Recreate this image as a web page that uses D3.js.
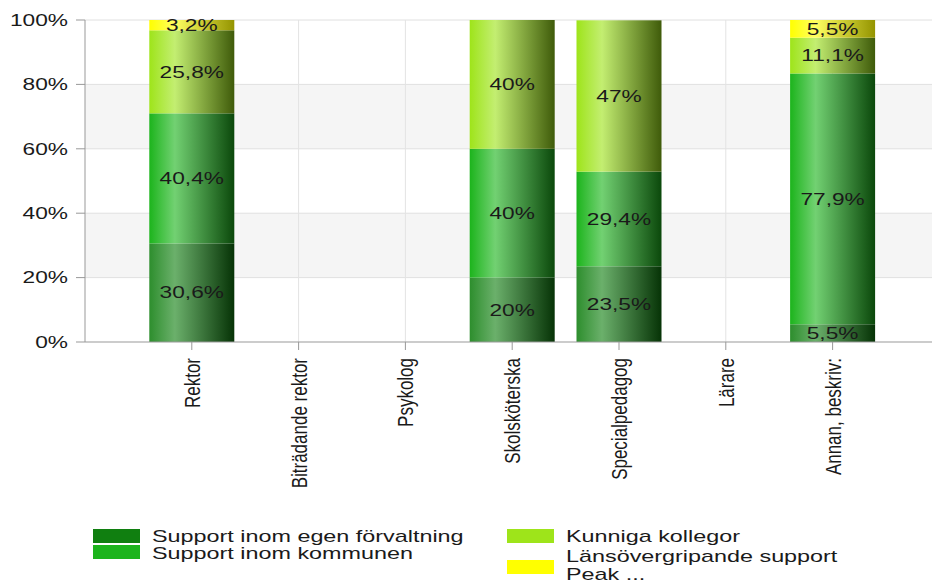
<!DOCTYPE html>
<html>
<head>
<meta charset="utf-8">
<script src="https://cdn.jsdelivr.net/npm/d3@7"></script>
<style>
  body { margin: 0; background: #fff; }
  text { font-family: "Liberation Sans", Arial, sans-serif; fill: #1a1a1a; }
</style>
</head>
<body>
<div id="chart"></div>
<script>
// Data
const categories = ["Rektor", "Biträdande rektor", "Psykolog", "Skolsköterska", "Specialpedagog", "Lärare", "Annan, beskriv:"];
const seriesNames = ["Support inom egen förvaltning", "Support inom kommunen", "Kunniga kollegor", "Länsövergripande support Peak ..."];
const egenForvaltning = [30.6, 0, 0, 20, 23.5, 0, 5.5];
const inomKommunen = [40.4, 0, 0, 40, 29.4, 0, 77.9];
const kunnigaKollegor = [25.8, 0, 0, 40, 47, 0, 11.1];
const lansovergripande = [3.2, 0, 0, 0, 0, 0, 5.5];
const yTicks = [0, 20, 40, 60, 80, 100];
const seriesColors = ["#107f10", "#1cb41c", "#9ee41a", "#ffff00"];

const width = 932, height = 580;
const margin = { top: 20, left: 85, bottom: 342 };
const step = 106.8;
const barWidth = 85;
const sx = 1.42; // horizontal text stretch seen in the reference

const svg = d3.select("#chart").append("svg")
    .attr("width", width)
    .attr("height", height);

const x = d3.scalePoint()
    .domain(categories)
    .range([margin.left, margin.left + step * (categories.length + 1)])
    .padding(1);

const y = d3.scaleLinear().domain([0, 100]).range([margin.bottom, margin.top]);

// table for stacking
const keys = ["s0", "s1", "s2", "s3"];
const rows = categories.map((c, i) => ({
    cat: c,
    s0: egenForvaltning[i], s1: inomKommunen[i], s2: kunnigaKollegor[i], s3: lansovergripande[i]
}));
const stacked = d3.stack().keys(keys)(rows);

// Gradients
const defs = svg.append("defs");
seriesColors.forEach((c, i) => {
    const g = defs.append("linearGradient")
        .attr("id", "grad" + i)
        .attr("x1", "0%").attr("x2", "100%").attr("y1", "0%").attr("y2", "0%");
    const light = d3.interpolateRgb(c, "#ffffff")(0.38);
    const dark = d3.interpolateRgb(c, "#000000")(i === 3 ? 0.42 : 0.6);
    g.append("stop").attr("offset", "0%").attr("stop-color", i === 0 ? d3.interpolateRgb(c, "#ffffff")(0.12) : c);
    g.append("stop").attr("offset", "30%").attr("stop-color", light);
    g.append("stop").attr("offset", "100%").attr("stop-color", dark);
});

// Alternating bands
const bands = [[20, 40], [60, 80]];
svg.selectAll(".band")
    .data(bands)
    .enter()
    .append("rect")
    .attr("x", margin.left)
    .attr("width", width - margin.left)
    .attr("y", d => y(d[1]))
    .attr("height", d => y(d[0]) - y(d[1]))
    .attr("fill", "#f5f5f5");

// Horizontal grid
svg.selectAll(".hgrid")
    .data(yTicks.slice(1))
    .enter()
    .append("line")
    .attr("x1", margin.left).attr("x2", width)
    .attr("y1", d => y(d)).attr("y2", d => y(d))
    .attr("stroke", "#e0e0e0");

// Vertical grid
svg.selectAll(".vgrid")
    .data(categories)
    .enter()
    .append("line")
    .attr("x1", d => x(d)).attr("x2", d => x(d))
    .attr("y1", margin.top).attr("y2", margin.bottom)
    .attr("stroke", "#e3e3e3");

// Bars
const layers = svg.selectAll(".layer")
    .data(stacked)
    .enter()
    .append("g")
    .attr("fill", (d, i) => `url(#grad${i})`);

layers.selectAll("rect")
    .data(d => d.filter(p => p.data[d.key] > 0))
    .enter()
    .append("rect")
    .attr("x", d => x(d.data.cat) - barWidth / 2)
    .attr("width", barWidth)
    .attr("y", d => y(d[1]))
    .attr("height", d => y(d[0]) - y(d[1]));

// Labels in segments
const fmt = v => String(v).replace(".", ",") + "%";
layers.selectAll("text")
    .data(d => d.filter(p => p.data[d.key] > 0).map(p => ({ p: p, v: p.data[d.key] })))
    .enter()
    .append("text")
    .attr("transform", d => `translate(${x(d.p.data.cat)},${y((d.p[0] + d.p[1]) / 2)}) scale(${sx},1)`)
    .attr("text-anchor", "middle")
    .attr("dy", "0.36em")
    .style("font-size", "16px")
    .text(d => fmt(d.v));

// Axes
svg.append("line")
    .attr("x1", margin.left).attr("x2", margin.left)
    .attr("y1", margin.top).attr("y2", margin.bottom)
    .attr("stroke", "#999");
svg.append("line")
    .attr("x1", margin.left).attr("x2", width)
    .attr("y1", margin.bottom).attr("y2", margin.bottom)
    .attr("stroke", "#999");

// Y ticks
svg.selectAll(".ytick")
    .data(yTicks)
    .enter()
    .append("line")
    .attr("x1", margin.left - 9).attr("x2", margin.left)
    .attr("y1", d => y(d)).attr("y2", d => y(d))
    .attr("stroke", "#999");

svg.selectAll(".ylabel")
    .data(yTicks)
    .enter()
    .append("text")
    .attr("transform", d => `translate(68,${y(d)}) scale(${sx},1)`)
    .attr("text-anchor", "end")
    .attr("dy", "0.36em")
    .style("font-size", "16px")
    .text(d => d + "%");

// X ticks
svg.selectAll(".xtick")
    .data(categories)
    .enter()
    .append("line")
    .attr("x1", d => x(d)).attr("x2", d => x(d))
    .attr("y1", margin.bottom).attr("y2", margin.bottom + 8)
    .attr("stroke", "#999");

svg.selectAll(".xlabel")
    .data(categories)
    .enter()
    .append("text")
    .attr("transform", d => `translate(${x(d)},${margin.bottom + 16}) scale(1.3,1) rotate(-90)`)
    .attr("text-anchor", "end")
    .attr("dy", "0.36em")
    .style("font-size", "17px")
    .text(d => d);

// Legend
const legendPos = [
    { x: 93, y: 529, ty: 536, lines: [seriesNames[0]] },
    { x: 93, y: 545, ty: 553, lines: [seriesNames[1]] },
    { x: 507, y: 529, ty: 536, lines: [seriesNames[2]] },
    { x: 507, y: 560, ty: 556, lines: ["Länsövergripande support", "Peak ..."] }
];
const legend = svg.selectAll(".legend")
    .data(legendPos)
    .enter()
    .append("g")
    .attr("class", "legend");

legend.append("rect")
    .attr("x", d => d.x)
    .attr("y", d => d.y)
    .attr("width", 47)
    .attr("height", 14)
    .attr("fill", (d, i) => seriesColors[i]);

legend.each(function (d) {
    const g = d3.select(this);
    d.lines.forEach((line, j) => {
        g.append("text")
            .attr("transform", `translate(${d.x + 59},${d.ty + j * 18}) scale(1.46,1)`)
            .attr("dy", "0.36em")
            .style("font-size", "16px")
            .text(line);
    });
});
</script>
</body>
</html>
